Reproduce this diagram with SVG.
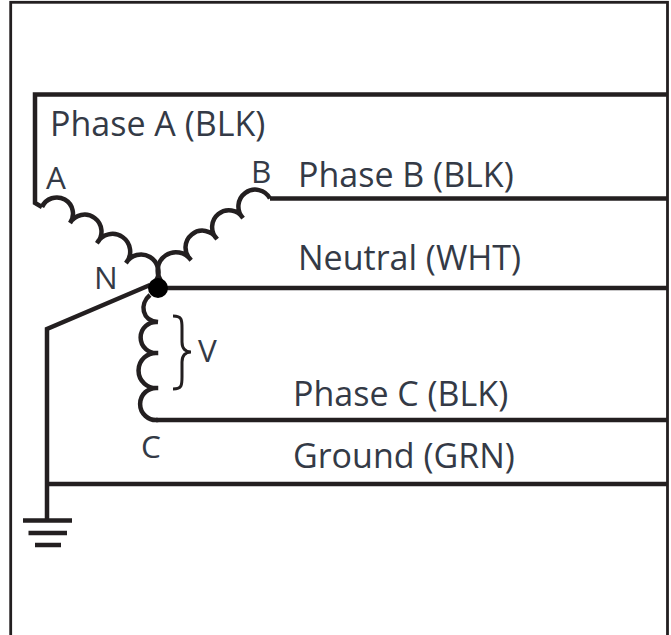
<svg xmlns="http://www.w3.org/2000/svg" width="671" height="635" viewBox="0 0 671 635">
<style>
.w{fill:none;stroke:#231f20;stroke-width:4.500}
.c{fill:none;stroke:#231f20;stroke-width:4.500}
.t{font-family:"Open Sans","Noto Sans",sans-serif;font-size:34px;fill:#343a46}
.s{font-size:31.500px}
</style>
<rect width="671" height="635" fill="#fff"/>
<rect id="frame" x="10.700" y="2.300" width="656.800" height="640" fill="none" stroke="#231f20" stroke-width="2.800"/>
<g id="connectors">
<path class="w" d="M667 94.500H35V203L42 207"/>
<path class="w" d="M270 198.500H667"/>
<path class="w" d="M158 288H667"/>
<path class="w" d="M156 420H667"/>
<path class="w" d="M47 484H667"/>
<path class="w" d="M150 285L47 329V520"/>
</g>
<g id="coil-a"><path class="c" d="M42 207A16.200 16.200 0 1 1 70 223A16.900 16.900 0 1 1 97 243A17.700 17.700 0 1 1 126 263A17.100 17.100 0 1 1 156 281"/></g>
<g id="coil-b"><path class="c" d="M161 281A17.600 17.600 0 1 1 191 260A16.900 16.900 0 1 1 217 239A16.800 16.800 0 1 1 243 218A16.800 16.800 0 1 1 270 198.500"/></g>
<g id="coil-c"><path class="c" d="M150 295C139 304 142 321 158 322A15.600 15.600 0 1 0 158 353A17.600 17.600 0 1 0 158 388A16.100 16.100 0 1 0 158 420"/></g>
<g id="node-n"><circle cx="158" cy="288" r="10" fill="#000"/></g>
<g id="ground"><path d="M23 520.500H72M28.500 533H67M35 545H61" fill="none" stroke="#231f20" stroke-width="4.500"/></g>
<g id="brace"><path d="M173 316C182 316 182 320 182 328V342C182 349 186 352 191 352C186 352 182 355 182 362V377C182 385 182 389 173 389" fill="none" stroke="#231f20" stroke-width="3"/></g>
<g id="labels">
<text class="t" x="50" y="136">Phase A (BLK)</text>
<text class="t" x="298" y="187">Phase B (BLK)</text>
<text class="t" x="298" y="270">Neutral (WHT)</text>
<text class="t" x="293" y="406">Phase C (BLK)</text>
<text class="t" x="293" y="468">Ground (GRN)</text>
<text class="t s" x="46" y="189">A</text>
<text class="t s" x="251" y="183">B</text>
<text class="t s" x="94" y="289">N</text>
<text class="t s" x="198" y="362">V</text>
<text class="t s" x="141" y="458">C</text>
</g>
</svg>
